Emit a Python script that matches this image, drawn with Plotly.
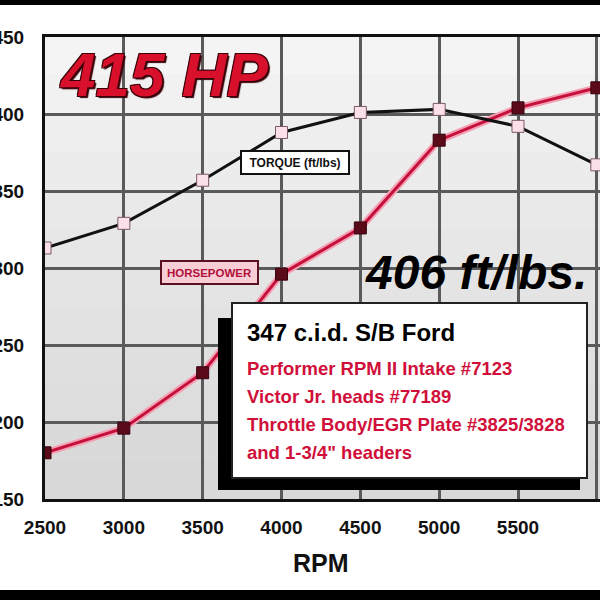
import plotly.graph_objects as go

rpm = [2500, 3000, 3500, 4000, 4500, 5000, 5500, 6000]
torque = [313, 329, 357, 388, 401, 403, 392, 367]
horsepower = [180, 196, 232, 296, 326, 383, 404, 417]
x_ticks = [2500, 3000, 3500, 4000, 4500, 5000, 5500, 6000]
y_ticks = [150, 200, 250, 300, 350, 400, 450]

title_hp = "415 HP"
title_tq = "406 ft/lbs."
torque_label = "TORQUE (ft/lbs)"
hp_label = "HORSEPOWER"
info_head = "347 c.i.d. S/B Ford"
info_lines = [
    "Performer RPM II Intake #7123",
    "Victor Jr. heads #77189",
    "Throttle Body/EGR Plate #3825/3828",
    "and 1-3/4\" headers",
]

FONT = "Liberation Sans, Arial, sans-serif"
W, H = 600, 600
L, T, B = 45, 37, 101
PW, PH = W - L, H - T - B


def px(xp):
    return (xp - L) / PW


def py(yp):
    return (H - B - yp) / PH


fig = go.Figure()

# HP glow + line
fig.add_trace(go.Scatter(x=rpm, y=horsepower, mode="lines",
                         line=dict(color="#f4a0b4", width=7), hoverinfo="skip",
                         showlegend=False))
fig.add_trace(go.Scatter(x=rpm, y=horsepower, mode="lines+markers",
                         line=dict(color="#c4103a", width=3),
                         marker=dict(symbol="square", size=12, color="#5a0a18",
                                     line=dict(color="#3a0010", width=1)),
                         showlegend=False, name="Horsepower"))
# Torque
fig.add_trace(go.Scatter(x=rpm, y=torque, mode="lines+markers",
                         line=dict(color="#111111", width=3),
                         marker=dict(symbol="square", size=12, color="#fbe0ea",
                                     line=dict(color="#7a5a60", width=1)),
                         showlegend=False, name="Torque"))

shapes = []
# gradient background bands
n = 12
for i in range(n):
    t = i / (n - 1)
    c = int(244 - t * 28)
    shapes.append(dict(type="rect", xref="paper", yref="paper",
                       x0=0, x1=1, y0=1 - (i + 1) / n, y1=1 - i / n,
                       fillcolor=f"rgb({c},{c},{c})", line=dict(width=0),
                       layer="below"))
# black bars top and bottom
shapes.append(dict(type="rect", xref="paper", yref="paper",
                   x0=px(-5), x1=px(605), y0=py(5), y1=py(-5),
                   fillcolor="#000", line=dict(width=0)))
shapes.append(dict(type="rect", xref="paper", yref="paper",
                   x0=px(-5), x1=px(605), y0=py(605), y1=py(590),
                   fillcolor="#000", line=dict(width=0)))
# info box shadow and box
shapes.append(dict(type="rect", xref="paper", yref="paper",
                   x0=px(218), x1=px(580), y0=py(490), y1=py(318),
                   fillcolor="#000", line=dict(width=0), layer="above"))
shapes.append(dict(type="rect", xref="paper", yref="paper",
                   x0=px(232), x1=px(587), y0=py(478), y1=py(303),
                   fillcolor="#fff", line=dict(color="#222", width=2), layer="above"))

annotations = []


def ann(text, x, y, font, xanchor="center", **kw):
    annotations.append(dict(text=text, xref="paper", yref="paper",
                            x=px(x), y=py(y), xanchor=xanchor, yanchor="middle",
                            showarrow=False, font=font, **kw))


ann(f"<b><i>{title_hp}</i></b>", 163, 74,
    dict(family=FONT, size=62, color="#d8102c",
         shadow="1px 1px 0 #3a0008, -1px -1px 0 #3a0008, 1px -1px 0 #3a0008, -1px 1px 0 #3a0008, 2px 2px 1px #3a0008"))
ann(f"<b><i>{title_tq}</i></b>", 476, 272, dict(family=FONT, size=48, color="#000"))
ann(f"<b>{torque_label}</b>", 295, 162.5, dict(family=FONT, size=12, color="#111"),
    width=104, height=19, borderpad=1, borderwidth=2, bordercolor="#111", bgcolor="#fff")
ann(f"<b>{hp_label}</b>", 209.5, 272.5, dict(family=FONT, size=11.5, color="#b0103a"),
    width=93, height=19, borderpad=1, borderwidth=2, bordercolor="#5a1020", bgcolor="#f7cdd6")
ann(f"<b>{info_head}</b>", 245, 332, dict(family=FONT, size=24, color="#000"), xanchor="left")
for i, line in enumerate(info_lines):
    ann(f"<b>{line}</b>", 245, 368 + i * 28.3,
        dict(family=FONT, size=18.5, color="#d0103a"), xanchor="left")
ann("<b>RPM</b>", 321, 563, dict(family=FONT, size=25, color="#111"))

fig.update_layout(
    width=W, height=H,
    margin=dict(l=L, r=0, t=T, b=B, pad=0),
    paper_bgcolor="#ffffff",
    plot_bgcolor="#e4e4e4",
    shapes=shapes,
    annotations=annotations,
    xaxis=dict(range=[2500, 6020], tickvals=x_ticks,
               ticktext=[f"<b>{v}</b>" for v in x_ticks],
               showgrid=True, gridcolor="#5a5a5a", gridwidth=3,
               showline=True, linecolor="#111", linewidth=3, mirror=True,
               zeroline=False, ticks="", ticklabelstandoff=9, automargin=False,
               tickfont=dict(family=FONT, size=19, color="#111")),
    yaxis=dict(range=[150, 450], tickvals=y_ticks,
               ticktext=[f"<b>{v}</b>" for v in y_ticks],
               showgrid=True, gridcolor="#5a5a5a", gridwidth=3,
               showline=True, linecolor="#111", linewidth=3,
               zeroline=False, ticks="", ticklabelstandoff=14, automargin=False,
               tickfont=dict(family=FONT, size=19, color="#111")),
)

fig.write_html("out.html", config={"displayModeBar": False},
               post_script="document.body.style.margin='0';")
